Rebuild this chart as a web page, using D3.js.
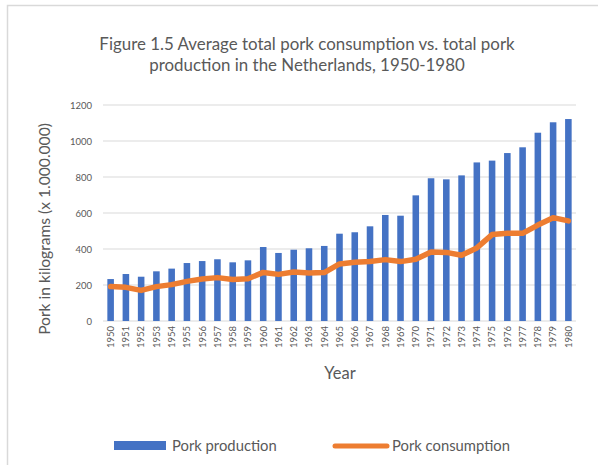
<!DOCTYPE html>
<html><head><meta charset="utf-8">
<script src="https://cdn.jsdelivr.net/npm/d3@7"></script>
<style>html,body{margin:0;padding:0;background:#fff;}</style>
</head><body>
<svg id="c" width="598" height="465"></svg>
<script>
const years = [1950,1951,1952,1953,1954,1955,1956,1957,1958,1959,1960,1961,1962,1963,1964,1965,1966,1967,1968,1969,1970,1971,1972,1973,1974,1975,1976,1977,1978,1979,1980];
const production = [233,261,246,276,291,322,333,343,326,337,411,378,396,404,417,485,493,526,589,585,698,793,787,809,881,891,933,965,1046,1104,1122];
const consumption = [191,187,170,191,202,220,233,241,230,235,270,259,272,267,269,317,326,331,341,330,343,383,381,365,406,480,487,487,533,574,556];
const yTicks = [0,200,400,600,800,1000,1200];
const titleLines = ["Figure 1.5 Average total pork consumption vs. total pork","production in the Netherlands, 1950-1980"];

const svg = d3.select("#c");
const font = "Lato, 'Open Sans', sans-serif";
// chart border
svg.append("rect").attr("x",7.5).attr("y",5.5).attr("width",620).attr("height",480)
  .attr("fill","none").attr("stroke","#d9d9d9").attr("stroke-width",1.5);

const x = d3.scaleBand().domain(years).range([103,576]).paddingInner(0.57).paddingOuter(0.285);
const y = d3.scaleLinear().domain([0,1200]).range([321,105]);

// gridlines
svg.append("g").selectAll("line").data(yTicks).join("line")
  .attr("x1",103).attr("x2",576).attr("y1",d=>y(d)).attr("y2",d=>y(d))
  .attr("stroke","#d9d9d9").attr("stroke-width",1);

// y axis labels
const yAxis = d3.axisLeft(y).tickValues(yTicks).tickFormat(d3.format("d")).tickSize(0).tickPadding(0);
const gy = svg.append("g").attr("transform","translate(92,0)").call(yAxis);
gy.select(".domain").remove();
gy.selectAll("text").attr("font-family",font).attr("font-size",9.5).attr("fill","#595959");

// bars
svg.append("g").selectAll("rect").data(years).join("rect")
  .attr("x",d=>x(d)).attr("width",x.bandwidth())
  .attr("y",(d,i)=>y(production[i])).attr("height",(d,i)=>y(0)-y(production[i]))
  .attr("fill","#4472C4");

// line
const line = d3.line().x((d,i)=>x(years[i])+x.bandwidth()/2).y(d=>y(d));
svg.append("path").datum(consumption).attr("d",line)
  .attr("fill","none").attr("stroke","#ED7D31").attr("stroke-width",5.5)
  .attr("stroke-linejoin","round").attr("stroke-linecap","round");

// x axis labels
const xAxis = d3.axisBottom(x).tickSize(0).tickPadding(0);
const gx = svg.append("g").attr("transform","translate(0,321)").call(xAxis);
gx.select(".domain").remove();
gx.selectAll("text").attr("font-family",font).attr("font-size",9.5).attr("fill","#595959")
  .attr("transform","rotate(-90)").attr("text-anchor","end").attr("dy","0.35em").attr("x",-5).attr("y",0);

// titles
svg.append("g").selectAll("text").data(titleLines).join("text")
  .attr("x",307).attr("y",(d,i)=>50+i*21).attr("text-anchor","middle")
  .attr("font-family",font).attr("font-size",16.9).attr("fill","#595959").text(d=>d);

svg.append("text").attr("transform","translate(50,229) rotate(-90)").attr("text-anchor","middle")
  .attr("font-family",font).attr("font-size",15.6).attr("fill","#595959").text("Pork  in kilograms (x 1.000.000)");

svg.append("text").attr("x",340).attr("y",379).attr("text-anchor","middle")
  .attr("font-family",font).attr("font-size",16.5).attr("fill","#595959").text("Year");

// legend
const lg = svg.append("g");
lg.append("rect").attr("x",114).attr("y",441).attr("width",52).attr("height",9).attr("fill","#4472C4");
lg.append("text").attr("x",172).attr("y",451).attr("font-family",font).attr("font-size",14.8).attr("fill","#595959").text("Pork production");
lg.append("line").attr("x1",335).attr("x2",387).attr("y1",446).attr("y2",446)
  .attr("stroke","#ED7D31").attr("stroke-width",5).attr("stroke-linecap","round");
lg.append("text").attr("x",392).attr("y",451).attr("font-family",font).attr("font-size",14.8).attr("fill","#595959").text("Pork consumption");
</script>
</body></html>
